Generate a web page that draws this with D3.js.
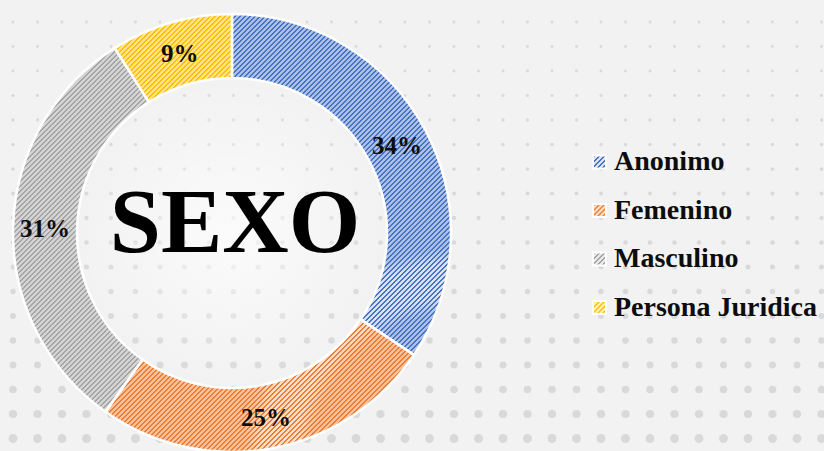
<!DOCTYPE html>
<html>
<head>
<meta charset="utf-8">
<script src="https://cdn.jsdelivr.net/npm/d3@7"></script>
<style>
  body { margin: 0; background: #f2f2f2; overflow: hidden; }
  text { font-family: "Liberation Serif", "DejaVu Serif", serif; font-weight: bold; }
</style>
</head>
<body>
<script>
// Donut "SEXO"

var categories = ["Anonimo", "Femenino", "Masculino", "Persona Juridica"];
var values = [34.4, 25.4, 31.2, 9.0];
var labels = ["34%", "25%", "31%", "9%"];

var colors = ["#4472c4", "#ed7d31", "#a5a5a5", "#ffc000"];
var lightColors = ["#d9e1f3", "#fcdfcd", "#e8e8e8", "#fff1c4"];

var svgWidth = 824;
var svgHeight = 451;

var cx = 232, cy = 233;
var outerR = 219, innerR = 155;

var svg = d3.select("body")
  .append("svg")
  .attr("width", svgWidth)
  .attr("height", svgHeight);

var defs = svg.append("defs");

// diagonal stripe patterns drawn pixel by pixel, one per category
var tile = 5;
colors.forEach(function (c, i) {
  var p = defs.append("pattern")
    .attr("id", "hatch" + i)
    .attr("patternUnits", "userSpaceOnUse")
    .attr("width", tile)
    .attr("height", tile);
  p.append("rect").attr("width", tile).attr("height", tile).attr("fill", lightColors[i]);
  d3.range(tile).forEach(function (x) {
    d3.range(tile).forEach(function (y) {
      var k = (x + y) % tile;
      if (k === 0 || k === 1) {
        p.append("rect")
          .attr("x", x).attr("y", y)
          .attr("width", 1).attr("height", 1)
          .attr("fill", c)
          .attr("shape-rendering", "crispEdges");
      }
    });
  });
});

// soft edge shading on the ring
colors.forEach(function (c, i) {
  var g = defs.append("radialGradient")
    .attr("id", "edge" + i)
    .attr("gradientUnits", "userSpaceOnUse")
    .attr("cx", cx).attr("cy", cy).attr("r", outerR);
  g.append("stop").attr("offset", innerR / outerR).attr("stop-color", c).attr("stop-opacity", 0.3);
  g.append("stop").attr("offset", 0.78).attr("stop-color", c).attr("stop-opacity", 0);
  g.append("stop").attr("offset", 0.93).attr("stop-color", c).attr("stop-opacity", 0);
  g.append("stop").attr("offset", 1).attr("stop-color", c).attr("stop-opacity", 0.3);
});

var glow = defs.append("radialGradient").attr("id", "glow");
glow.append("stop").attr("offset", 0).attr("stop-color", "#ffffff").attr("stop-opacity", 0.7);
glow.append("stop").attr("offset", 1).attr("stop-color", "#ffffff").attr("stop-opacity", 0);

// dotted background, dots grow toward the bottom
var dotStep = 24.5;
var dotGroup = svg.append("g");
d3.range(13, svgWidth + 10, dotStep).forEach(function (x) {
  d3.range(22, svgHeight + 10, dotStep).forEach(function (y) {
    dotGroup.append("circle")
      .attr("cx", x)
      .attr("cy", y)
      .attr("r", 1.4 + 3.2 * (y / svgHeight) * (y / svgHeight))
      .attr("fill", "#d9d9d9");
  });
});

svg.append("circle")
  .attr("cx", cx).attr("cy", cy).attr("r", innerR)
  .attr("fill", "url(#glow)");

var chartGroup = svg.append("g")
  .attr("transform", "translate(" + cx + "," + cy + ")");

var pie = d3.pie().sort(null).value(function (d) { return d; });
var arcs = pie(values);

var arc = d3.arc().innerRadius(innerR).outerRadius(outerR);
var labelArc = d3.arc().innerRadius(187).outerRadius(187);

chartGroup.selectAll("path.slice")
  .data(arcs)
  .enter()
  .append("path")
  .attr("class", "slice")
  .attr("d", arc)
  .attr("fill", function (d, i) { return "url(#hatch" + i + ")"; });

chartGroup.selectAll("path.edge")
  .data(arcs)
  .enter()
  .append("path")
  .attr("class", "edge")
  .attr("d", arc)
  .attr("fill", function (d, i) { return "url(#edge" + i + ")"; })
  .attr("stroke", "#ffffff")
  .attr("stroke-width", 2.5);

chartGroup.selectAll("text.pct")
  .data(arcs)
  .enter()
  .append("text")
  .attr("class", "pct")
  .attr("x", function (d) { return labelArc.centroid(d)[0]; })
  .attr("y", function (d) { return labelArc.centroid(d)[1] + 9; })
  .attr("text-anchor", "middle")
  .style("font-size", "25px")
  .attr("fill", "#0d0d0d")
  .text(function (d, i) { return labels[i]; });

// center title
chartGroup.append("text")
  .attr("x", 3)
  .attr("y", 19)
  .attr("text-anchor", "middle")
  .style("font-size", "92px")
  .attr("fill", "#000000")
  .text("SEXO");

// legend
var legend = svg.append("g")
  .attr("transform", "translate(594, 170)");

var rows = legend.selectAll("g")
  .data(categories)
  .enter()
  .append("g")
  .attr("transform", function (d, i) { return "translate(0," + (i * 48.5) + ")"; });

rows.append("rect")
  .attr("x", -2).attr("y", -15.5)
  .attr("width", 15).attr("height", 15)
  .attr("fill", "#ffffff");

rows.append("rect")
  .attr("x", 0).attr("y", -13.5)
  .attr("width", 11).attr("height", 11)
  .attr("fill", function (d, i) { return "url(#hatch" + i + ")"; });

rows.append("text")
  .attr("x", 20)
  .attr("y", 0)
  .style("font-size", "28px")
  .attr("fill", "#0d0d0d")
  .text(function (d) { return d; });
</script>
</body>
</html>
